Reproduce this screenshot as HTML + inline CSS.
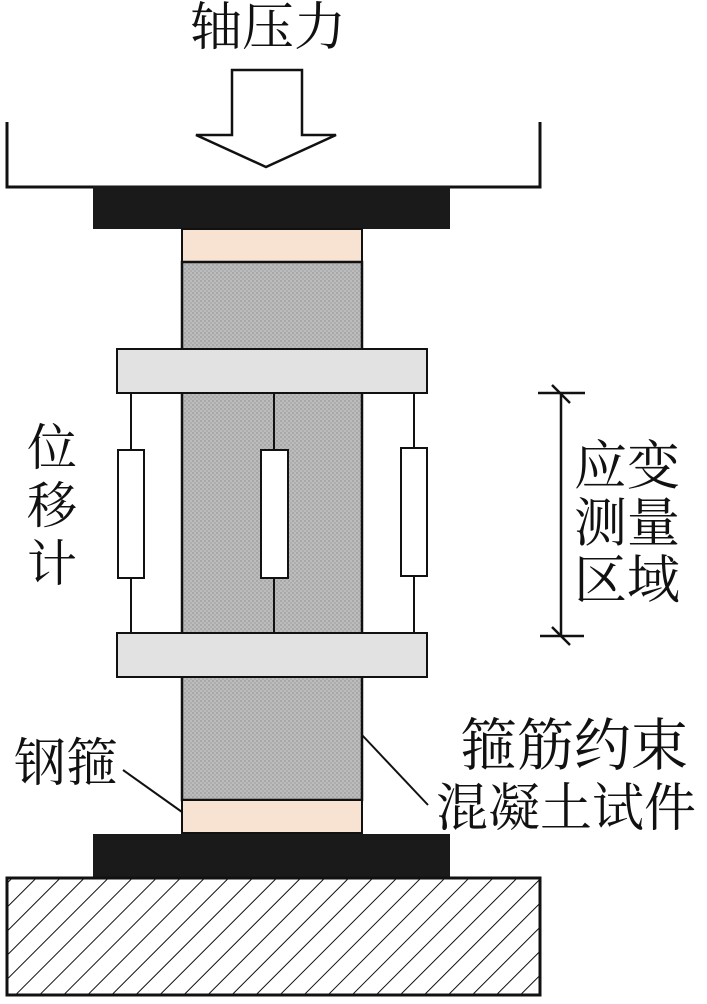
<!DOCTYPE html>
<html><head><meta charset="utf-8"><style>
body{margin:0;background:#fff;}
svg text{font-family:"Liberation Serif","Noto Serif CJK SC",serif;fill:#111;}
</style></head><body>
<svg width="707" height="999" viewBox="0 0 707 999" xmlns="http://www.w3.org/2000/svg">
<defs>
<pattern id="dots" width="4" height="4" patternUnits="userSpaceOnUse">
<rect width="4" height="4" fill="#bcbcbc"/><rect width="2" height="2" fill="#a8a8a8"/><rect x="2" y="2" width="2" height="2" fill="#aeaeae"/>
</pattern>
<pattern id="hatch" width="17" height="17" patternUnits="userSpaceOnUse" patternTransform="rotate(45)">
<rect width="17" height="17" fill="#fff"/><line x1="0" y1="0" x2="0" y2="17" stroke="#111" stroke-width="2"/>
</pattern>
</defs>
<text x="268" y="45" font-size="52" text-anchor="middle">轴压力</text>
<polygon points="232,70 302,70 302,135 336,135 266,167 196,135 232,135" fill="#fff" stroke="#111" stroke-width="2.5"/>
<polyline points="7,122 7,187 540,187 540,122" fill="none" stroke="#111" stroke-width="3"/>
<rect x="93" y="186" width="357" height="43" fill="#1a1a1a"/>
<rect x="182" y="229" width="180" height="33" fill="#f8e3d3" stroke="#111" stroke-width="2"/>
<rect x="182" y="262" width="180" height="538" fill="url(#dots)" stroke="#111" stroke-width="2.5"/>
<line x1="274" y1="393" x2="274" y2="633" stroke="#111" stroke-width="2"/>
<rect x="117" y="349" width="310" height="44" fill="#e2e2e2" stroke="#111" stroke-width="2"/>
<rect x="117" y="633" width="310" height="44" fill="#e2e2e2" stroke="#111" stroke-width="2"/>
<line x1="131" y1="393" x2="131" y2="633" stroke="#111" stroke-width="2"/>
<line x1="414" y1="393" x2="414" y2="633" stroke="#111" stroke-width="2"/>
<rect x="118" y="450" width="26" height="128" fill="#fff" stroke="#111" stroke-width="2"/>
<rect x="261" y="450" width="27" height="128" fill="#fff" stroke="#111" stroke-width="2"/>
<rect x="401" y="448" width="26" height="128" fill="#fff" stroke="#111" stroke-width="2"/>
<rect x="182" y="800" width="180" height="33" fill="#f8e3d3" stroke="#111" stroke-width="2"/>
<rect x="93" y="834" width="357" height="44" fill="#1a1a1a"/>
<rect x="7" y="878" width="533" height="117" fill="url(#hatch)" stroke="#111" stroke-width="3"/>
<line x1="561" y1="393" x2="561" y2="636" stroke="#111" stroke-width="2.5"/>
<line x1="538" y1="393" x2="585" y2="393" stroke="#111" stroke-width="2.5"/>
<line x1="540" y1="636" x2="584" y2="636" stroke="#111" stroke-width="2.5"/>
<line x1="552" y1="385" x2="570" y2="403" stroke="#111" stroke-width="2.5"/>
<line x1="552" y1="627" x2="570" y2="645" stroke="#111" stroke-width="2.5"/>
<text font-size="53"><tspan x="574" y="484">应变</tspan><tspan x="574" y="541">测量</tspan><tspan x="574" y="598">区域</tspan></text>
<text font-size="50" x="27" y="465">位</text>
<text font-size="50" x="27" y="523">移</text>
<text font-size="50" x="27" y="581">计</text>
<text font-size="52" x="14" y="781">钢箍</text>
<line x1="123" y1="770" x2="182" y2="812" stroke="#111" stroke-width="2"/>
<text font-size="57" x="460" y="765">箍筋约束</text>
<text font-size="52" x="436" y="826">混凝土试件</text>
<line x1="362" y1="735" x2="428" y2="805" stroke="#111" stroke-width="2"/>
</svg>
</body></html>
